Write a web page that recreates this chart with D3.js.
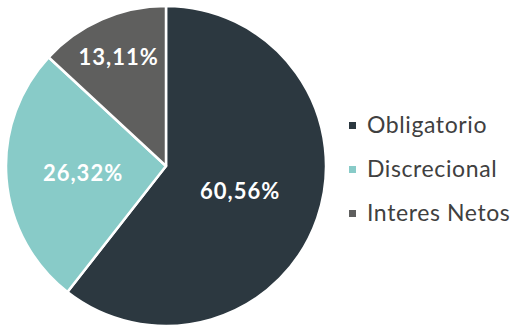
<!DOCTYPE html>
<html>
<head>
<meta charset="utf-8">
<script src="https://cdn.jsdelivr.net/npm/d3@7"></script>
<style>
  body { margin: 0; background: #fff; }
  svg { display: block; font-family: "Century Gothic", Lato, sans-serif; }
</style>
</head>
<body>
<div id="chart"></div>
<script>
const width = 517,
  height = 328;

const categories = ["Obligatorio", "Discrecional", "Interes Netos"];
const values = [60.56, 26.32, 13.11];
const labels = ["60,56%", "26,32%", "13,11%"];

const colors = ["#2c3840", "#88cbc8", "#5f5f5e"];
// how far out each label sits, as a share of the radius
const labelPos = [0.49, 0.52, 0.74];

const cx = 166,
  cy = 166,
  radius = 160;

const svg = d3
  .select("#chart")
  .append("svg")
  .attr("width", width)
  .attr("height", height);

const pie = d3.pie().sort(null).value((d) => d);
const arcs = pie(values);

const arc = d3.arc().innerRadius(0).outerRadius(radius);

const g = svg.append("g").attr("transform", `translate(${cx},${cy})`);

g.selectAll("path")
  .data(arcs)
  .enter()
  .append("path")
  .attr("d", arc)
  .attr("fill", (d, i) => colors[i])
  .attr("stroke", "#fff")
  .attr("stroke-width", 2.5)
  .attr("stroke-linejoin", "round");

g.selectAll(".lbl")
  .data(arcs)
  .enter()
  .append("text")
  .attr("class", "lbl")
  .attr("transform", (d, i) => {
    const r = radius * labelPos[i];
    return `translate(${d3.arc().innerRadius(r).outerRadius(r).centroid(d)})`;
  })
  .attr("text-anchor", "middle")
  .attr("dy", "0.36em")
  .attr("fill", "#fff")
  .attr("font-weight", "bold")
  .attr("font-size", 22)
  .attr("letter-spacing", 1)
  .text((d, i) => labels[i]);

const legendY = d3.scalePoint().domain(categories).range([125, 213]);

const legend = svg
  .append("g")
  .selectAll("g")
  .data(categories)
  .enter()
  .append("g")
  .attr("transform", (d) => `translate(349,${legendY(d)})`);

legend
  .append("rect")
  .attr("x", 0)
  .attr("y", -3)
  .attr("width", 7)
  .attr("height", 7)
  .attr("fill", (d, i) => colors[i]);

legend
  .append("text")
  .attr("x", 18)
  .attr("dy", "0.36em")
  .attr("fill", "#404040")
  .attr("font-size", 23)
  .attr("letter-spacing", 0.6)
  .text((d) => d);
</script>
</body>
</html>
